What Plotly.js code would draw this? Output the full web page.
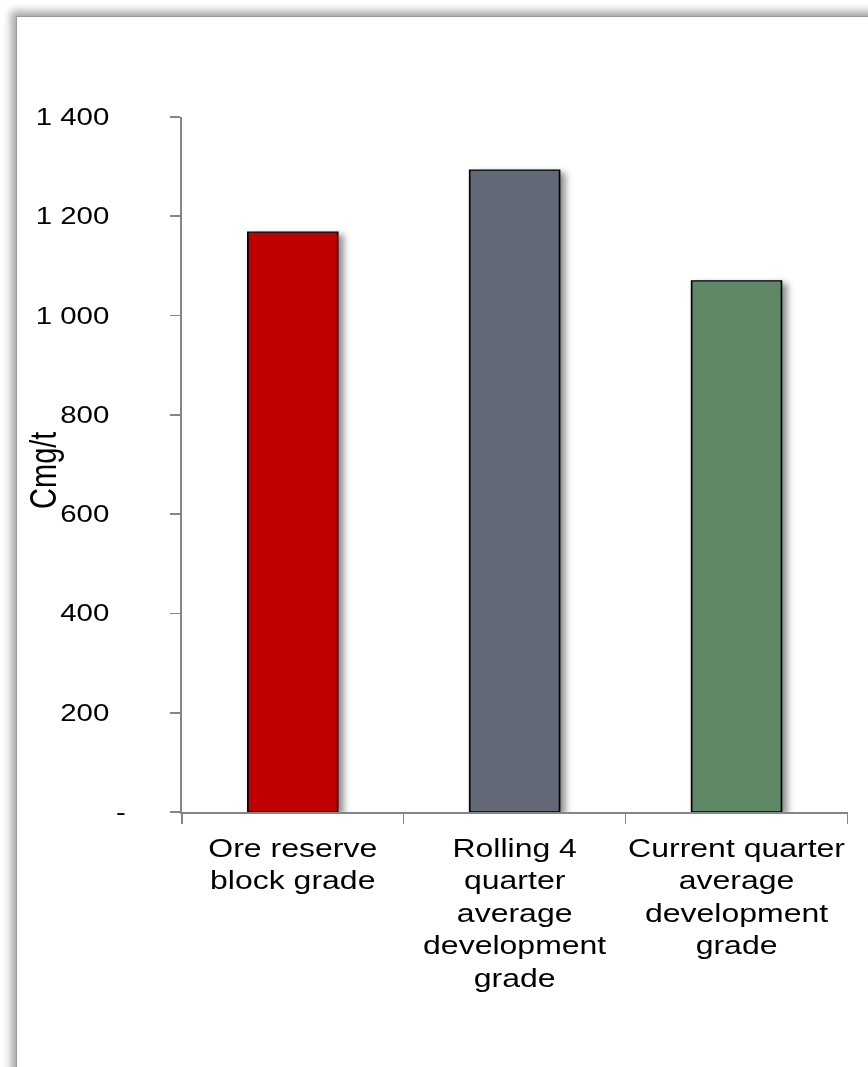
<!DOCTYPE html>
<html>
<head>
<meta charset="utf-8">
<script src="https://cdn.plot.ly/plotly-3.0.1.min.js"></script>
<style>
  html, body { margin: 0; padding: 0; background: #ffffff; overflow: hidden; }
  #frame {
    position: absolute; left: 16px; top: 16px; width: 900px; height: 1100px;
    background: #ffffff;
    box-shadow: -2px -2px 8px 3px rgba(0,0,0,0.35);
    border-left: 1px solid #9a9a9a; border-top: 1px solid #9a9a9a;
  }
  #chart { position: absolute; left: 0; top: 0; width: 678px; height: 1067px; transform-origin: 0 0; }
  #chart .barlayer .points { filter: drop-shadow(4px 3px 3px rgba(0,0,0,0.45)); }
</style>
</head>
<body>
<div id="frame"></div>
<div id="chart"></div>
<script>
// Grade comparison, Cmg/t
const categories = [
  "Ore reserve<br>block grade",
  "Rolling 4<br>quarter<br>average<br>development<br>grade",
  "Current quarter<br>average<br>development<br>grade"
];
const grades = [1168, 1293, 1070];
const barColors = ["#C00000", "#636977", "#5E8866"];
const yTickVals = [0, 200, 400, 600, 800, 1000, 1200, 1400];
// accounting-style labels: zero shown as a dash, numbers padded on the right
const yTickText = ["-", "200\u00a0\u00a0", "400\u00a0\u00a0", "600\u00a0\u00a0", "800\u00a0\u00a0",
                   "1 000\u00a0\u00a0", "1 200\u00a0\u00a0", "1 400\u00a0\u00a0"];
const yTitle = "Cmg/t";

const font = "Liberation Sans, Arial, sans-serif";
// the chart is laid out narrow and widened to the page width
const pageW = 868, chartW = 678, stretch = pageW / chartW;

Plotly.newPlot("chart", [{
  type: "bar",
  x: categories,
  y: grades,
  width: 0.405,
  marker: { color: barColors, line: { color: "#000000", width: 1.3 } },
  hoverinfo: "skip"
}], {
  width: chartW, height: 1067,
  paper_bgcolor: "rgba(0,0,0,0)", plot_bgcolor: "rgba(0,0,0,0)",
  margin: { l: 142, r: 16, t: 117, b: 255 },
  showlegend: false,
  font: { family: font, color: "#000000" },
  xaxis: {
    type: "category",
    showline: true, linecolor: "#868686", linewidth: 1.6,
    ticks: "outside", tickson: "boundaries", ticklen: 10, tickcolor: "#868686", tickwidth: 1.2,
    tickangle: 0, ticklabelstandoff: 13,
    tickfont: { size: 25, family: font, color: "#000000" },
    showgrid: false, zeroline: false
  },
  yaxis: {
    range: [0, 1400],
    tickvals: yTickVals, ticktext: yTickText,
    showline: true, linecolor: "#868686", linewidth: 1.2,
    ticks: "outside", ticklen: 8, tickcolor: "#868686", tickwidth: 1.6,
    ticklabelstandoff: 30,
    tickfont: { size: 23, family: font, color: "#000000" },
    showgrid: false, zeroline: false
  },
  annotations: [{
    text: yTitle, textangle: -90,
    xref: "paper", yref: "paper", x: -0.208, y: 0.492,
    xanchor: "center", yanchor: "middle", showarrow: false,
    font: { size: 29, family: font, color: "#000000" }
  }]
}, { displayModeBar: false, staticPlot: true }).then(function () {
  document.getElementById("chart").style.transform = "scaleX(" + stretch + ")";
});
</script>
</body>
</html>
